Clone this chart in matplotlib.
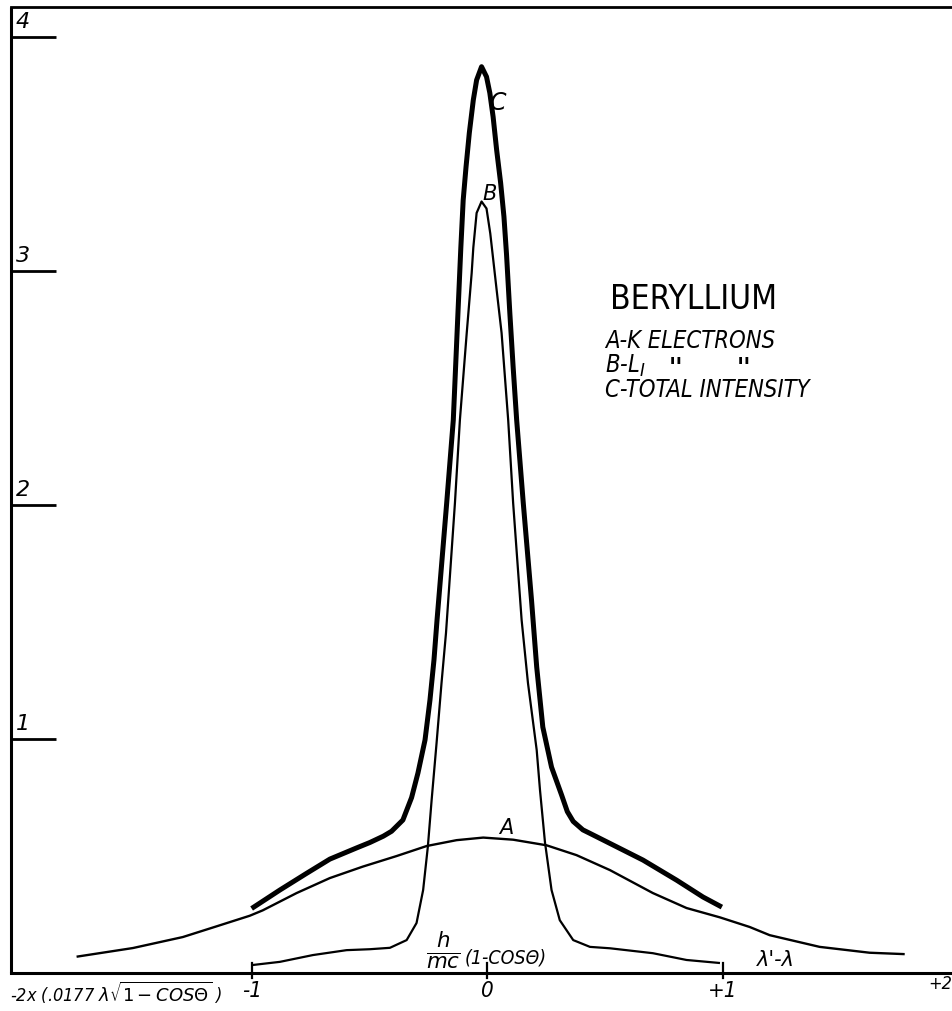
import matplotlib.pyplot as plt

# -----------------------------
# Data
# -----------------------------
# A - K electrons
a_x = [-1.743, -1.504, -1.292, -1.148, -1.008, -0.953, -0.809, -0.668, -0.528,
       -0.385, -0.257, -0.130, -0.017, 0.110, 0.252, 0.379, 0.521, 0.703,
       0.846, 0.988, 1.114, 1.199, 1.411, 1.623, 1.772]
a_y = [0.070, 0.107, 0.154, 0.200, 0.245, 0.268, 0.342, 0.406, 0.455,
       0.500, 0.543, 0.568, 0.579, 0.570, 0.546, 0.504, 0.440, 0.342,
       0.278, 0.238, 0.197, 0.162, 0.112, 0.087, 0.081]

# B - L_I electrons
b_x = [-1.000, -0.880, -0.740, -0.597, -0.498, -0.413, -0.342, -0.300, -0.272,
       -0.252, -0.236, -0.215, -0.194, -0.175, -0.137, -0.116, -0.087, -0.066,
       -0.059, -0.045, -0.024, -0.003, 0.013, 0.040, 0.061, 0.089, 0.110,
       0.146, 0.173, 0.210, 0.224, 0.245, 0.273, 0.308, 0.365, 0.436, 0.521,
       0.703, 0.846, 0.988]
b_y = [0.034, 0.048, 0.077, 0.098, 0.102, 0.108, 0.141, 0.214, 0.355,
       0.540, 0.739, 0.983, 1.239, 1.453, 2.009, 2.363, 2.735, 2.991,
       3.100, 3.248, 3.297, 3.267, 3.160, 2.919, 2.735, 2.363, 2.009,
       1.509, 1.239, 0.953, 0.782, 0.560, 0.355, 0.226, 0.141, 0.112, 0.106,
       0.085, 0.056, 0.043]

# C - total intensity
c_x = [-1.000, -0.880, -0.767, -0.668, -0.554, -0.498, -0.441, -0.406, -0.358,
       -0.321, -0.294, -0.264, -0.243, -0.226, -0.213, -0.172, -0.144, -0.126,
       -0.112, -0.102, -0.090, -0.076, -0.059, -0.045, -0.024, -0.003, 0.011,
       0.025, 0.040, 0.057, 0.071, 0.082, 0.096, 0.110, 0.125, 0.153, 0.188,
       0.210, 0.236, 0.273, 0.316, 0.340, 0.365, 0.406, 0.436, 0.521, 0.661,
       0.804, 0.916, 0.996]
c_y = [0.276, 0.355, 0.426, 0.487, 0.535, 0.558, 0.585, 0.606, 0.654,
       0.750, 0.855, 0.996, 1.167, 1.338, 1.509, 2.009, 2.363, 2.780,
       3.100, 3.303, 3.444, 3.590, 3.731, 3.816, 3.873, 3.830, 3.761,
       3.659, 3.517, 3.376, 3.232, 3.070, 2.820, 2.590, 2.363, 2.009, 1.594,
       1.308, 1.051, 0.880, 0.760, 0.690, 0.648, 0.612, 0.597, 0.554, 0.483,
       0.397, 0.325, 0.282]

y_ticks = [1, 2, 3, 4]
x_ticks = [-1, 0, 1]
x_tick_labels = ["-1", "0", "+1"]

title = "BERYLLIUM"
legend_lines = ["A-K ELECTRONS", r"B-L$_{I}$", "C-TOTAL INTENSITY"]

hand = ["DejaVu Sans"]

# -----------------------------
# Plot
# -----------------------------
fig = plt.figure(figsize=(9.53, 10.11), dpi=100)
ax = fig.add_axes([0, 0, 1, 1])
ax.set_xlim(-2.068, 1.977)
ax.set_ylim(-0.162, 4.158)
ax.axis("off")

ink = "black"
x_left = -2.022
y_top = 4.128

# frame: left axis, baseline, top rule
ax.plot([x_left, x_left], [0, y_top], color=ink, lw=2.2, solid_capstyle="butt")
ax.plot([x_left, 2.1], [0, 0], color=ink, lw=2.2)
ax.plot([x_left, 2.1], [y_top, y_top], color=ink, lw=2.0)

# y ticks: short rules with the number sitting on top
for t in y_ticks:
    ax.plot([x_left, -1.83], [t, t], color=ink, lw=2.0, solid_capstyle="butt")
    ax.text(-2.00, t + 0.02, str(t), fontsize=16, style="italic",
            family=hand, ha="left", va="bottom")

# x ticks
for t, lab in zip(x_ticks, x_tick_labels):
    ax.plot([t, t], [-0.02, 0.045], color=ink, lw=1.6)
    ax.text(t, -0.035, lab, fontsize=16, style="italic", family=hand,
            fontstretch="condensed", ha="center", va="top")

# curves
ax.plot(a_x, a_y, color=ink, lw=1.7, solid_capstyle="butt",
        solid_joinstyle="round")
ax.plot(b_x, b_y, color=ink, lw=1.6, solid_capstyle="butt",
        solid_joinstyle="round")
ax.plot(c_x, c_y, color=ink, lw=3.6, solid_capstyle="butt",
        solid_joinstyle="round")

# curve labels
ax.text(0.047, 3.72, "C", fontsize=17, style="italic", family=hand,
        ha="center", va="center")
ax.text(0.012, 3.33, "B", fontsize=15, style="italic", family=hand,
        ha="center", va="center")
ax.text(0.082, 0.62, "A", fontsize=15, style="italic", family=hand,
        ha="center", va="center")

# key
ax.text(0.52, 2.88, title, fontsize=24, family=hand,
        fontstretch="condensed", ha="left", va="center")
for i, line in enumerate(legend_lines):
    ax.text(0.50, 2.70 - i * 0.105, line, fontsize=17, style="italic",
            family=hand, fontstretch="condensed", ha="left", va="center")
ax.text(0.80, 2.585, "''", fontsize=17, weight="bold", family=hand,
        ha="center", va="center")
ax.text(1.09, 2.585, "''", fontsize=17, weight="bold", family=hand,
        ha="center", va="center")

# axis captions
ax.text(-2.025, -0.085, r"-2x (.0177 $\lambda\sqrt{1-COS\Theta}$ )",
        fontsize=13, style="italic", family=hand, fontstretch="condensed",
        ha="left", va="center")
ax.text(-0.188, 0.098, r"$\frac{h}{mc}$", fontsize=22, ha="center",
        va="center")
ax.text(-0.097, 0.064, "(1-COSΘ)", fontsize=14, style="italic", family=hand,
        fontstretch="condensed", ha="left", va="center")
ax.text(1.225, 0.056, "λ'-λ", fontsize=15, style="italic", family=hand,
        ha="center", va="center")
ax.text(1.972, -0.045, "+2", fontsize=13, style="italic", family=hand,
        fontstretch="condensed", ha="right", va="center")

plt.savefig("out.png", dpi=100)
